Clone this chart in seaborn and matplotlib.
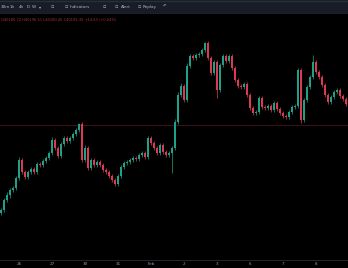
import numpy as np
import pandas as pd
import matplotlib
matplotlib.use("Agg")
import matplotlib.pyplot as plt
import seaborn as sns

# ---- data ----
first_open = 40087
closes = [40090, 40100, 40105, 40110, 40112, 40122, 40140, 40128, 40123, 40128,
          40131, 40128, 40136, 40135, 40139, 40142, 40147, 40160, 40152, 40144,
          40156, 40162, 40159, 40162, 40166, 40170, 40176, 40140, 40152, 40132,
          40140, 40135, 40138, 40135, 40130, 40128, 40124, 40120, 40116, 40124,
          40133, 40137, 40138, 40140, 40142, 40141, 40145, 40147, 40143, 40162,
          40157, 40152, 40147, 40155, 40148, 40145, 40147, 40152, 40178, 40205,
          40214, 40200, 40234, 40244, 40242, 40245, 40246, 40250, 40257, 40242,
          40227, 40238, 40210, 40235, 40244, 40239, 40244, 40232, 40220, 40214,
          40213, 40216, 40205, 40192, 40187, 40188, 40202, 40193, 40192, 40194,
          40190, 40197, 40191, 40187, 40184, 40183, 40188, 40193, 40194, 40230,
          40180, 40200, 40213, 40223, 40238, 40228, 40223, 40215, 40205, 40198,
          40203, 40208, 40210, 40204, 40201, 40196]
wick_up = [2, 2, 3, 2, 2, 2, 3, 2, 2, 2,
           2, 2, 2, 2, 2, 2, 2, 3, 2, 2,
           2, 2, 2, 2, 2, 2, 1, 2, 3, 2,
           2, 2, 2, 2, 2, 2, 2, 2, 2, 2,
           2, 2, 2, 2, 2, 2, 2, 2, 2, 2,
           2, 2, 2, 2, 2, 2, 2, 2, 3, 3,
           3, 2, 3, 2, 2, 2, 2, 2, 1, 2,
           2, 2, 2, 2, 2, 2, 2, 2, 2, 2,
           2, 2, 2, 2, 2, 2, 2, 2, 2, 2,
           2, 2, 2, 2, 2, 2, 2, 2, 2, 2,
           2, 2, 2, 2, 7, 2, 2, 2, 2, 2,
           2, 2, 2, 2, 2, 2]
wick_dn = [2, 2, 2, 3, 2, 2, 2, 2, 2, 2,
           2, 2, 2, 2, 2, 2, 2, 2, 2, 2,
           2, 2, 2, 2, 2, 2, 2, 2, 2, 2,
           2, 2, 2, 2, 2, 2, 2, 2, 2, 2,
           2, 2, 2, 2, 2, 2, 2, 2, 2, 2,
           2, 2, 2, 2, 2, 2, 2, 20, 2, 2,
           2, 2, 2, 2, 2, 2, 2, 2, 2, 2,
           2, 2, 8, 2, 2, 2, 2, 2, 2, 2,
           2, 2, 2, 2, 2, 2, 2, 2, 2, 2,
           2, 2, 2, 2, 2, 2, 2, 2, 2, 2,
           3, 2, 2, 2, 2, 2, 2, 2, 2, 2,
           2, 2, 2, 2, 2, 2]
day_labels = ["26", "27", "30", "31", "Feb", "2", "3", "6", "7", "8"]
day_ticks = [6, 17, 28, 39, 50, 61, 72, 83, 94, 105]
level_price = 40175
legend_text = "O40180.72 H40196.51 L40180.45 C40195.35 +14.63 (+0.04%)"
toolbar_items = [("30m", 1), ("1h", 10), ("4h", 19), ("D", 27), ("W", 32), ("▾", 39),
                 ("Indicators", 70), ("Alert", 121), ("Replay", 143), ("↶", 163)]

opens = [first_open] + closes[:-1]
df = pd.DataFrame({"open": opens, "close": closes})
df["idx"] = np.arange(len(df))
df["high"] = df[["open", "close"]].max(axis=1) + np.array(wick_up)
df["low"] = df[["open", "close"]].min(axis=1) - np.array(wick_dn)
df["up"] = df["close"] >= df["open"]

GREEN = "#1fa088"
RED = "#dc3a52"
BG = "#000000"

sns.set_theme(style="dark", rc={"axes.facecolor": BG, "figure.facecolor": BG})
plt.rcParams["font.family"] = ["DejaVu Sans"]

W, H = 348, 268
fig = plt.figure(figsize=(W / 100, H / 100), dpi=100)
fig.patch.set_facecolor(BG)

ax = fig.add_axes([0, (H - 260) / H, 1, (260 - 14) / H])
ax.set_facecolor(BG)

# level line
ax.axhline(level_price, color="#4a1422", lw=0.6, zorder=1)

colors = np.where(df["up"], GREEN, RED)
ax.vlines(df["idx"], df["low"], df["high"], colors=colors, lw=0.5, zorder=2)
body_h = (df["close"] - df["open"]).abs().clip(lower=0.6)
ax.bar(df["idx"], body_h, bottom=df[["open", "close"]].min(axis=1), width=0.5,
       color=colors, edgecolor="none", zorder=3)

ax.set_xlim(-1 / 3, 347 / 3)
ax.set_ylim(40040, 40286)
ax.set_xticks(day_ticks)
ax.set_xticklabels(day_labels)
ax.set_yticks([])
ax.tick_params(axis="x", colors="#3a3e48", labelcolor="#9598a1", labelsize=3,
               length=2, width=0.5, direction="in", pad=1.5)
for s in ["top", "left", "right"]:
    ax.spines[s].set_visible(False)
ax.spines["bottom"].set_color("#2a2e39")
ax.spines["bottom"].set_linewidth(0.6)
ax.grid(False)

# legend line
ax.text(1 / W, 1 - 20 / H, legend_text, transform=fig.transFigure, color="#a8303f",
        fontsize=2.6, va="center", ha="left")

# toolbar
tb = fig.add_axes([0, 1 - 14 / H, 1, 14 / H])
tb.set_xlim(0, W)
tb.set_ylim(14, 0)
tb.set_facecolor("#181c27")
tb.axhline(0.5, color="#2a2e39", lw=1)
tb.axhline(13.5, color="#2a2e39", lw=1)
for s in tb.spines.values():
    s.set_visible(False)
tb.set_xticks([])
tb.set_yticks([])
for label, x in toolbar_items:
    tb.text(x, 7, label, color="#b2b5be", fontsize=3, va="center", ha="left")
for x in [51, 65, 103, 115, 138]:
    tb.text(x, 7, "▫", color="#b2b5be", fontsize=3.5, va="center", ha="left")

fig.savefig("out.png", dpi=100, facecolor=BG)
